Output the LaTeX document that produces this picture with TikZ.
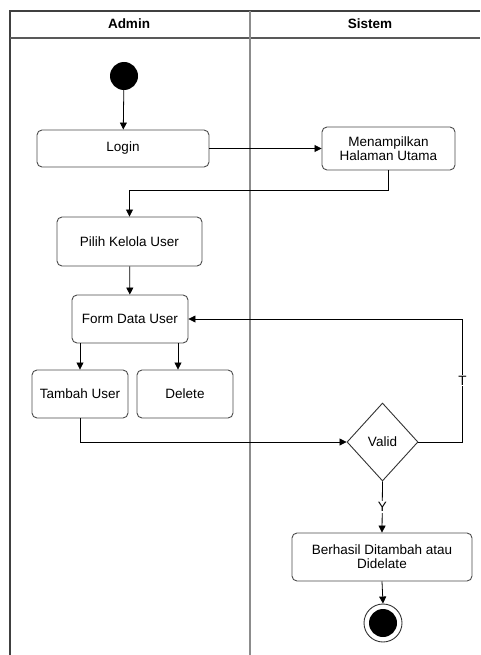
\documentclass[tikz,border=0pt]{standalone}
\usepackage{fontspec}
\setmainfont{Liberation Sans}
\usetikzlibrary{arrows.meta,shapes.geometric}
\begin{document}
\begin{tikzpicture}[x=1pt,y=-1pt,
  every node/.style={font=\fontsize{13.5}{16}\selectfont},
  act/.style={draw=black!70, rounded corners=5pt, line width=0.9pt, fill=white, align=center, inner sep=0pt},
  dec/.style={draw=black!80, diamond, line width=0.9pt, fill=white, inner sep=0pt, minimum width=71pt, minimum height=78pt},
  conn/.style={line width=0.8pt, draw=black, -{Triangle[length=7pt,width=7pt]}},
  lbl/.style={fill=white, inner sep=1pt}]
\useasboundingbox (0,0) rectangle (480,655);
% swimlanes
\draw[line width=1.1pt, black!75] (480,11) -- (10,11) -- (10,655);
\draw[line width=1.1pt, black!65] (10,38) -- (480,38);
\draw[line width=1.3pt, black!45] (250,11) -- (250,655);
\node (hadmin) at (129,24) {\textbf{Admin}};
\node (hsistem) at (370,24) {\textbf{Sistem}};
% nodes
\node[circle, fill=black, minimum size=28pt, inner sep=0pt] (start) at (124,76) {};
\node[act, minimum width=172pt, minimum height=37pt] (login) at (123,148.5) {Login};
\node[act, minimum width=133pt, minimum height=43pt] (menu) at (388.5,148.5) {Menampilkan\\[-2pt]Halaman Utama};
\node[act, minimum width=145pt, minimum height=49pt] (pilih) at (129.5,241.5) {Pilih Kelola User};
\node[act, minimum width=116pt, minimum height=48pt] (form) at (130,319) {Form Data User};
\node[act, minimum width=96pt, minimum height=48pt] (tambah) at (80,394) {Tambah User};
\node[act, minimum width=96pt, minimum height=48pt] (delete) at (185,394) {Delete};
\node[dec] (valid) at (382.5,442) {Valid};
\node[act, minimum width=180pt, minimum height=48pt] (hasil) at (382,557) {Berhasil Ditambah atau\\[-2pt]Didelate};
\node[circle, draw=black!80, line width=0.9pt, fill=white, minimum size=38pt, inner sep=0pt] (end) at (383,623) {};
\node[circle, fill=black, minimum size=28pt, inner sep=0pt] (endin) at (end.center) {};
% connectors
\draw[conn] (start) -- (login);
\draw[conn] (login) -- (menu);
\draw[conn] (menu.south) -- ++(0,20) -| (pilih.north);
\draw[conn] (pilih) -- (form);
\draw[conn] (form.south -| tambah.north) -- (tambah.north);
\draw[conn] ([xshift=-7pt]delete.north |- form.south) -- ([xshift=-7pt]delete.north);
\draw[conn] (tambah.south) |- (valid.west);
\draw[conn] (valid.east) -- ++(44,0) |- (form.east) node[lbl, pos=0.25] {T};
\draw[conn] (valid.south) -- (hasil.north) node[lbl, midway] {Y};
\draw[conn] (hasil.south) -- (end.north);
\end{tikzpicture}
\end{document}
